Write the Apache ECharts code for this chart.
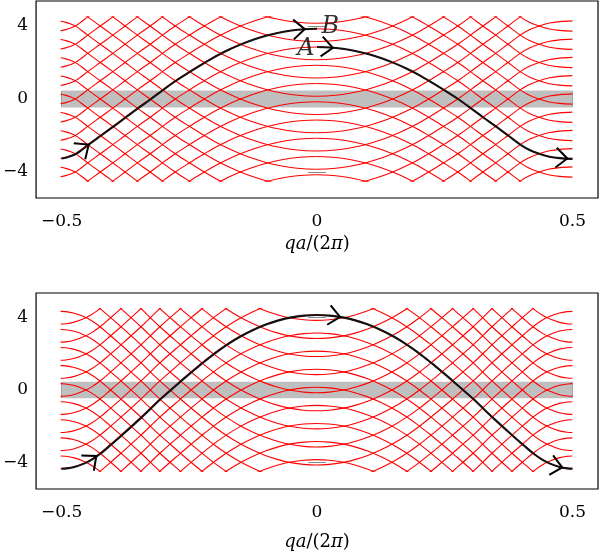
<!DOCTYPE html>
<html><head><meta charset="utf-8">
<script src="https://cdn.jsdelivr.net/npm/echarts@6/dist/echarts.min.js"></script>
<style>html,body{margin:0;padding:0;background:#fff}#c{width:600px;height:555px}</style>
</head><body><div id="c"></div>
<script>
// ---------------- data ----------------
const xTicks = [-0.5, 0, 0.5];
const yTicks = [-4, 0, 4];

// top panel: band E(q), branch left of q=0 (ends at B) and right of q=0 (starts at A)
const topLeftQ  = [-0.5,-0.49,-0.48,-0.47,-0.46,-0.447,-0.4225,-0.398,-0.374,-0.35,-0.325,-0.301,-0.276,-0.25,-0.225,-0.2,-0.175,-0.15,-0.125,-0.1,-0.075,-0.05,-0.025,0];
const topLeftE  = [-3.26,-3.2,-3.11,-2.98,-2.78,-2.5,-2.0,-1.5,-1.0,-0.5,0.0,0.5,1.0,1.47,1.9,2.31,2.67,2.98,3.25,3.465,3.633,3.754,3.826,3.85];
const topRightQ = [0,0.025,0.05,0.075,0.1,0.125,0.15,0.175,0.2,0.225,0.25,0.276,0.301,0.325,0.35,0.374,0.398,0.415,0.435,0.455,0.475,0.5];
const topRightE = [2.85,2.826,2.754,2.633,2.465,2.25,1.98,1.67,1.31,0.9,0.47,0.0,-0.5,-1.0,-1.5,-2.0,-2.5,-2.78,-3.0,-3.16,-3.24,-3.28];

// bottom panel: band E(q)
const bottomQ = [-0.5,-0.49,-0.475,-0.455,-0.44,-0.423,-0.405,-0.382,-0.343,-0.306,-0.267,-0.245,-0.225,-0.2,-0.175,-0.15,-0.125,-0.1,-0.075,-0.05,-0.025,0,
                 0.025,0.05,0.075,0.1,0.125,0.15,0.175,0.2,0.225,0.245,0.267,0.306,0.343,0.382,0.405,0.423,0.44,0.455,0.475,0.49,0.5];
const bottomE = [-4.35,-4.336,-4.26,-4.06,-3.84,-3.5,-3.07,-2.5,-1.5,-0.5,0.47,1.0,1.47,2.03,2.53,2.96,3.32,3.62,3.852,4.018,4.117,4.15,
                 4.117,4.018,3.852,3.62,3.32,2.96,2.53,2.03,1.47,1.0,0.47,-0.5,-1.5,-2.5,-3.07,-3.5,-3.84,-4.06,-4.26,-4.336,-4.35];

// red ladder: band copies E + n and mirrored copies -E + n
const ladderShifts = [-9,-8,-7,-6,-5,-4,-3,-2,-1,0,1,2,3,4,5,6,7,8,9];
const ladderLimit = 4.5;          // red curves are shown only for |E| <= 4.5
const grayBand = [-0.46, 0.46];   // shaded energy window
const grayBandQ = [-0.5, 0.5];

// arrows: [q_tip, E_tip, q_ahead, E_ahead]
const arrowsTop = [[-0.447,-2.5,-0.437,-2.3],[-0.024,3.83,-0.004,3.85],[0.031,2.81,0.051,2.75],[0.49,-3.26,0.5,-3.28]];
const arrowsBottom = [[-0.432,-3.65,-0.422,-3.42],[0.045,4.04,0.055,3.99],[0.48,-4.28,0.49,-4.336]];
const labelsTop = [['B',0.026,3.96],['A',-0.022,2.74]];

// ---------------- layout ----------------
const X0 = 35, XW = 563, XMIN = -0.55, XMAX = 0.55;
const panels = [
  {top: 1,   zero: 99,  scale: 18.25,  bottom: 198, nameGap: 37},
  {top: 293, zero: 390, scale: 18.075, bottom: 489, nameGap: 44}
];

const chart = echarts.init(document.getElementById('c'), null, {renderer:'canvas'});
const serif = 'DejaVu Serif';
const fmt = v => (v < 0 ? '\u2212' : '') + String(Math.abs(v));
const tickStyle = {color:'#8c8c8c', width:1};

const grid = [], xAxis = [], yAxis = [], series = [];

panels.forEach((p, pi) => {
  const h = p.bottom - p.top;
  const ymax = (p.zero - p.top) / p.scale;
  const ymin = -(p.bottom - p.zero) / p.scale;
  const gMain = grid.length;
  grid.push({left: X0, width: XW, top: p.top, height: h, show: true, borderColor: '#000', borderWidth: 1.2, backgroundColor: 'transparent'});
  const gRed = grid.length;
  grid.push({left: X0, width: XW, top: p.zero - ladderLimit * p.scale, height: 2 * ladderLimit * p.scale, show: false});

  const xa = xAxis.length;
  xAxis.push({type:'value', gridIndex:gMain, min:XMIN, max:XMAX, position:'bottom',
    axisLine:{show:false}, splitLine:{show:false},
    axisTick:{show:true, inside:true, length:8, customValues:xTicks, lineStyle:tickStyle},
    axisLabel:{show:true, customValues:xTicks, formatter:fmt, fontFamily:serif, fontSize:17, color:'#000', margin:15},
    name:'{i|qa}/(2{i|π})', nameLocation:'middle', nameGap:p.nameGap,
    nameTextStyle:{fontFamily:serif, fontSize:18, color:'#000', rich:{i:{fontFamily:serif, fontStyle:'italic', fontSize:18, color:'#000'}}}});
  xAxis.push({type:'value', gridIndex:gMain, min:XMIN, max:XMAX, position:'top',
    axisLine:{show:false}, splitLine:{show:false}, axisLabel:{show:false},
    axisTick:{show:true, inside:true, length:8, customValues:xTicks, lineStyle:tickStyle}});
  const xr = xAxis.length;
  xAxis.push({type:'value', gridIndex:gRed, min:XMIN, max:XMAX, show:false});

  const ya = yAxis.length;
  yAxis.push({type:'value', gridIndex:gMain, min:ymin, max:ymax, position:'left',
    axisLine:{show:false}, splitLine:{show:false},
    axisTick:{show:true, inside:true, length:9, customValues:yTicks, lineStyle:tickStyle},
    axisLabel:{show:true, customValues:yTicks, formatter:fmt, fontFamily:serif, fontSize:17, color:'#000', margin:8}});
  yAxis.push({type:'value', gridIndex:gMain, min:ymin, max:ymax, position:'right',
    axisLine:{show:false}, splitLine:{show:false}, axisLabel:{show:false},
    axisTick:{show:true, inside:true, length:9, customValues:yTicks, lineStyle:tickStyle}});
  const yr = yAxis.length;
  yAxis.push({type:'value', gridIndex:gRed, min:-ladderLimit, max:ladderLimit, show:false});

  // gray band
  series.push({type:'line', xAxisIndex:xa, yAxisIndex:ya, data:[], silent:true, z:1,
    markArea:{silent:true, itemStyle:{color:'#bfbfbf'},
      data:[[{coord:[grayBandQ[0], grayBand[0]]},{coord:[grayBandQ[1], grayBand[1]]}]]}});

  const branches = pi === 0 ? [[topLeftQ, topLeftE],[topRightQ, topRightE]] : [[bottomQ, bottomE]];
  // red ladder
  branches.forEach(([qs, es]) => {
    [1, -1].forEach(sign => {
      ladderShifts.forEach(n => {
        series.push({type:'line', xAxisIndex:xr, yAxisIndex:yr, clip:true, silent:true, z:2,
          symbol:'none', smooth:0.35,
          lineStyle:{color:'#ff0000', width:1.1},
          data: qs.map((q, i) => [q, sign * es[i] + n])});
      });
    });
  });
  // black trajectory
  branches.forEach(([qs, es]) => {
    series.push({type:'line', xAxisIndex:xa, yAxisIndex:ya, silent:true, z:3, symbol:'none', smooth:0.35,
      lineStyle:{color:'#161010', width:2.1}, data: qs.map((q, i) => [q, es[i]])});
  });
  // arrows
  series.push({type:'custom', xAxisIndex:xa, yAxisIndex:ya, z:4, silent:true,
    encode:{x:0, y:1},
    data: pi === 0 ? arrowsTop : arrowsBottom,
    renderItem: (params, api) => {
      const tip = api.coord([api.value(0), api.value(1)]);
      const ah = api.coord([api.value(2), api.value(3)]);
      const ang = Math.atan2(ah[1] - tip[1], ah[0] - tip[0]);
      const L = 15, sp = 0.72;
      const b1 = [tip[0] - L*Math.cos(ang - sp), tip[1] - L*Math.sin(ang - sp)];
      const b2 = [tip[0] - L*Math.cos(ang + sp), tip[1] - L*Math.sin(ang + sp)];
      return {type:'polyline', shape:{points:[b1, tip, b2]},
        style:{stroke:'#000', lineWidth:2, fill:null, lineJoin:'miter'}};
    }});
  if (pi === 0) {
    series.push({type:'scatter', xAxisIndex:xa, yAxisIndex:ya, z:5, silent:true, symbolSize:0,
      data: labelsTop.map(l => ({name:l[0], value:[l[1], l[2]]})),
      label:{show:true, position:'inside', formatter:'{b}', fontFamily:serif, fontStyle:'italic', fontSize:24, color:'#000'}});
  }
});

chart.setOption({animation:false, backgroundColor:'#fff', grid, xAxis, yAxis, series});
</script></body></html>
